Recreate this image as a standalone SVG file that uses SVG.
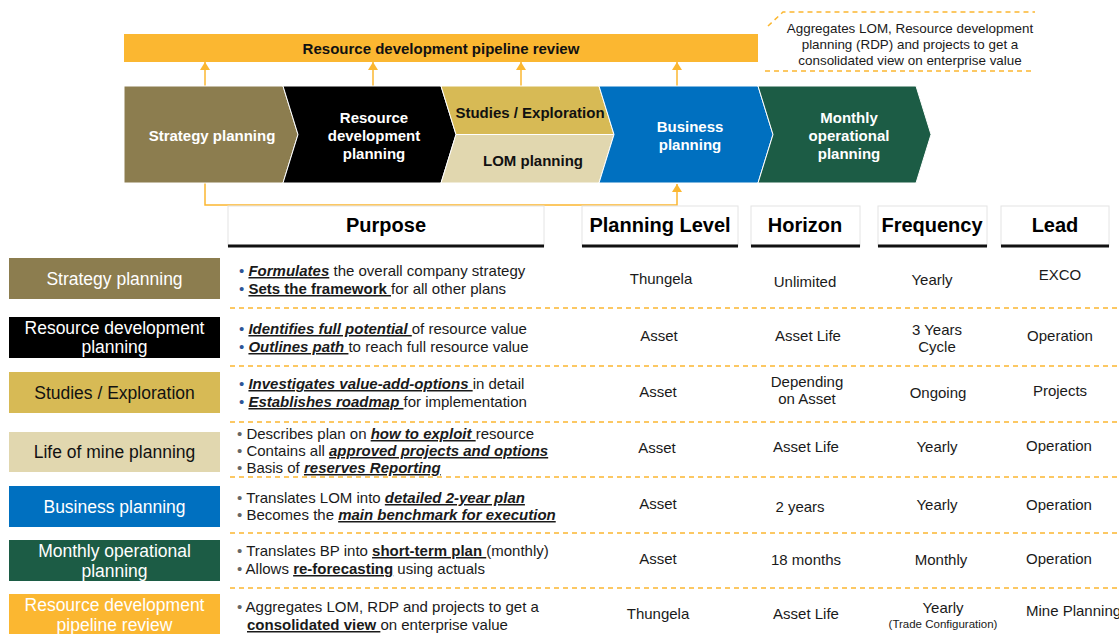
<svg xmlns="http://www.w3.org/2000/svg" width="1119" height="634" viewBox="0 0 1119 634">
<style>
text{font-family:"Liberation Sans",Arial,sans-serif;white-space:pre}
.bar{font-size:15px;font-weight:bold;fill:#111}
.chw{font-size:15px;font-weight:bold;fill:#fff}
.chb{font-size:15px;font-weight:bold;fill:#111}
.hdr{font-size:20px;font-weight:bold;fill:#000}
.lbl{font-size:17.5px;fill:#fff}
.lblk{font-size:17.5px;fill:#111}
.pur{font-size:15px;fill:#1a1a1a}
.val{font-size:15px;fill:#1a1a1a}
.small{font-size:11.5px;fill:#1a1a1a}
.ann{font-size:13.4px;fill:#1a1a1a}
.bi{font-weight:bold;font-style:italic;text-decoration:underline}
.bu{font-weight:bold;text-decoration:underline}
.bb{fill:#2F5597}
.bg{fill:#666}
.dash{stroke:#FBB731;stroke-width:1.5;stroke-dasharray:5 4;fill:none}
.conn{stroke:#FBB731;stroke-width:1.5;fill:none}
.hbox{fill:#fff;stroke:#e4e4e4;stroke-width:1}
.uline{stroke:#111;stroke-width:3}
</style>
<defs>
<marker id="ah" markerWidth="8" markerHeight="10" refX="8" refY="5" orient="auto" markerUnits="userSpaceOnUse" viewBox="0 0 8 10">
<path d="M0,0 L8,5 L0,10 Z" fill="#FBB731"/>
</marker>
</defs>

<g id="pipeline-bar">
<rect x="124" y="34" width="634" height="28" fill="#FBB731"/>
<text class="bar" x="441" y="54" text-anchor="middle">Resource development pipeline review</text>
</g>

<g id="callout">
<path class="dash" d="M768,26 L783,12 L1035,12"/>
<path class="dash" d="M765,71 L1035,71"/>
<text class="ann" x="910" y="33" text-anchor="middle">Aggregates LOM, Resource development</text>
<text class="ann" x="910" y="49" text-anchor="middle">planning (RDP) and projects to get a</text>
<text class="ann" x="910" y="65" text-anchor="middle">consolidated view on enterprise value</text>
</g>

<g id="connectors">
<path class="conn" d="M205,86 L205,62" marker-end="url(#ah)"/>
<path class="conn" d="M373,86 L373,62" marker-end="url(#ah)"/>
<path class="conn" d="M521,86 L521,62" marker-end="url(#ah)"/>
<path class="conn" d="M677,86 L677,62" marker-end="url(#ah)"/>
<path class="conn" d="M205,183 L205,205 L677,205 L677,184" marker-end="url(#ah)"/>
</g>

<g id="chev-strategy">
<path d="M124,86 L283,86 L298,134.5 L283,183 L124,183 Z" fill="#8C7D4F" stroke="#fff" stroke-width="1"/>
<text class="chw" x="212" y="141" text-anchor="middle">Strategy planning</text>
</g>
<g id="chev-rdp">
<path d="M283,86 L441,86 L456,134.5 L441,183 L283,183 L298,134.5 Z" fill="#000" stroke="#fff" stroke-width="1"/>
<text class="chw" x="374" y="123" text-anchor="middle">Resource</text>
<text class="chw" x="374" y="141" text-anchor="middle">development</text>
<text class="chw" x="374" y="159" text-anchor="middle">planning</text>
</g>
<g id="chev-studies">
<path d="M441,86 L599,86 L614,134.5 L456,134.5 Z" fill="#D7BA55" stroke="#fff" stroke-width="1"/>
<text class="chb" x="530" y="118" text-anchor="middle">Studies / Exploration</text>
</g>
<g id="chev-lom">
<path d="M456,134.5 L614,134.5 L599,183 L441,183 Z" fill="#E1D7AF" stroke="#fff" stroke-width="1"/>
<text class="chb" x="533" y="166" text-anchor="middle">LOM planning</text>
</g>
<g id="chev-business">
<path d="M599,86 L758,86 L773,134.5 L758,183 L599,183 L614,134.5 Z" fill="#0070C0" stroke="#fff" stroke-width="1"/>
<text class="chw" x="690" y="132" text-anchor="middle">Business</text>
<text class="chw" x="690" y="150" text-anchor="middle">planning</text>
</g>
<g id="chev-monthly">
<path d="M758,86 L916,86 L931,134.5 L916,183 L758,183 L773,134.5 Z" fill="#1C5C45" stroke="#fff" stroke-width="1"/>
<text class="chw" x="849" y="123" text-anchor="middle">Monthly</text>
<text class="chw" x="849" y="141" text-anchor="middle">operational</text>
<text class="chw" x="849" y="159" text-anchor="middle">planning</text>
</g>

<g id="headers">
<rect class="hbox" x="228" y="206" width="316" height="40"/>
<line class="uline" x1="228" y1="246" x2="544" y2="246"/>
<text class="hdr" x="386" y="232" text-anchor="middle">Purpose</text>
<rect class="hbox" x="582" y="206" width="156" height="40"/>
<line class="uline" x1="582" y1="246" x2="738" y2="246"/>
<text class="hdr" x="660" y="232" text-anchor="middle">Planning Level</text>
<rect class="hbox" x="751" y="206" width="109" height="40"/>
<line class="uline" x1="751" y1="246" x2="860" y2="246"/>
<text class="hdr" x="805" y="232" text-anchor="middle">Horizon</text>
<rect class="hbox" x="878" y="206" width="109" height="40"/>
<line class="uline" x1="878" y1="246" x2="987" y2="246"/>
<text class="hdr" x="932" y="232" text-anchor="middle">Frequency</text>
<rect class="hbox" x="1001" y="206" width="108" height="40"/>
<line class="uline" x1="1001" y1="246" x2="1109" y2="246"/>
<text class="hdr" x="1055" y="232" text-anchor="middle">Lead</text>
</g>

<g id="separators">
<line class="dash" x1="230" y1="308" x2="1119" y2="308"/>
<line class="dash" x1="230" y1="366" x2="1119" y2="366"/>
<line class="dash" x1="230" y1="422" x2="1119" y2="422"/>
<line class="dash" x1="230" y1="477" x2="1119" y2="477"/>
<line class="dash" x1="230" y1="533" x2="1119" y2="533"/>
<line class="dash" x1="230" y1="588" x2="1119" y2="588"/>
</g>

<g id="row-strategy">
<rect x="9" y="258" width="211" height="41" fill="#8C7D4F"/>
<text class="lbl" x="114.5" y="285" text-anchor="middle">Strategy planning</text>
<text class="pur" x="239" y="276"><tspan class="bb">•</tspan> <tspan class="bi">Formulates</tspan> the overall company strategy</text>
<text class="pur" x="239" y="294"><tspan class="bb">•</tspan> <tspan class="bu">Sets the framework </tspan>for all other plans</text>
<text class="val" x="661" y="284" text-anchor="middle">Thungela</text>
<text class="val" x="805" y="287" text-anchor="middle">Unlimited</text>
<text class="val" x="932" y="285" text-anchor="middle">Yearly</text>
<text class="val" x="1060" y="280" text-anchor="middle">EXCO</text>
</g>

<g id="row-rdp">
<rect x="9" y="317" width="211" height="41" fill="#000"/>
<text class="lbl" x="114.5" y="334" text-anchor="middle">Resource development</text>
<text class="lbl" x="114.5" y="353" text-anchor="middle">planning</text>
<text class="pur" x="239" y="334"><tspan class="bb">•</tspan> <tspan class="bi">Identifies full potential </tspan>of resource value</text>
<text class="pur" x="239" y="352"><tspan class="bb">•</tspan> <tspan class="bi">Outlines path </tspan>to reach full resource value</text>
<text class="val" x="659" y="341" text-anchor="middle">Asset</text>
<text class="val" x="808" y="341" text-anchor="middle">Asset Life</text>
<text class="val" x="937" y="335" text-anchor="middle">3 Years</text>
<text class="val" x="937" y="352" text-anchor="middle">Cycle</text>
<text class="val" x="1060" y="341" text-anchor="middle">Operation</text>
</g>

<g id="row-studies">
<rect x="9" y="372" width="211" height="41" fill="#D7BA55"/>
<text class="lblk" x="114.5" y="399" text-anchor="middle">Studies / Exploration</text>
<text class="pur" x="239" y="389"><tspan class="bb">•</tspan> <tspan class="bi">Investigates value-add-options </tspan>in detail</text>
<text class="pur" x="239" y="407"><tspan class="bb">•</tspan> <tspan class="bi">Establishes roadmap </tspan>for implementation</text>
<text class="val" x="658" y="397" text-anchor="middle">Asset</text>
<text class="val" x="807" y="387" text-anchor="middle">Depending</text>
<text class="val" x="807" y="404" text-anchor="middle">on Asset</text>
<text class="val" x="938" y="398" text-anchor="middle">Ongoing</text>
<text class="val" x="1060" y="396" text-anchor="middle">Projects</text>
</g>

<g id="row-lom">
<rect x="9" y="432" width="211" height="40" fill="#E1D7AF"/>
<text class="lblk" x="114.5" y="458" text-anchor="middle">Life of mine planning</text>
<text class="pur" x="237" y="439"><tspan class="bg">•</tspan> Describes plan on <tspan class="bi">how to exploit </tspan>resource</text>
<text class="pur" x="237" y="456"><tspan class="bg">•</tspan> Contains all <tspan class="bi">approved projects and options</tspan></text>
<text class="pur" x="237" y="473"><tspan class="bg">•</tspan> Basis of <tspan class="bi">reserves Reporting</tspan></text>
<text class="val" x="657" y="453" text-anchor="middle">Asset</text>
<text class="val" x="806" y="452" text-anchor="middle">Asset Life</text>
<text class="val" x="937" y="452" text-anchor="middle">Yearly</text>
<text class="val" x="1059" y="451" text-anchor="middle">Operation</text>
</g>

<g id="row-business">
<rect x="9" y="486" width="211" height="41" fill="#0070C0"/>
<text class="lbl" x="114.5" y="513" text-anchor="middle">Business planning</text>
<text class="pur" x="237" y="503"><tspan class="bg">•</tspan> Translates LOM into <tspan class="bi">detailed 2-year plan</tspan></text>
<text class="pur" x="237" y="520"><tspan class="bg">•</tspan> Becomes the <tspan class="bi">main benchmark for execution</tspan></text>
<text class="val" x="658" y="509" text-anchor="middle">Asset</text>
<text class="val" x="800" y="512" text-anchor="middle">2 years</text>
<text class="val" x="937" y="510" text-anchor="middle">Yearly</text>
<text class="val" x="1059" y="510" text-anchor="middle">Operation</text>
</g>

<g id="row-monthly">
<rect x="9" y="540" width="211" height="41" fill="#1C5C45"/>
<text class="lbl" x="114.5" y="557" text-anchor="middle">Monthly operational</text>
<text class="lbl" x="114.5" y="577" text-anchor="middle">planning</text>
<text class="pur" x="237" y="556"><tspan class="bg">•</tspan> Translates BP into <tspan class="bu">short-term plan </tspan>(monthly)</text>
<text class="pur" x="237" y="574"><tspan class="bg">•</tspan> Allows <tspan class="bu">re-forecasting</tspan> using actuals</text>
<text class="val" x="658" y="564" text-anchor="middle">Asset</text>
<text class="val" x="806" y="565" text-anchor="middle">18 months</text>
<text class="val" x="941" y="565" text-anchor="middle">Monthly</text>
<text class="val" x="1059" y="564" text-anchor="middle">Operation</text>
</g>

<g id="row-pipeline">
<rect x="9" y="594" width="211" height="40" fill="#FBB731"/>
<text class="lbl" x="114.5" y="611" text-anchor="middle">Resource development</text>
<text class="lbl" x="114.5" y="631" text-anchor="middle">pipeline review</text>
<text class="pur" x="237" y="612"><tspan class="bg">•</tspan> Aggregates LOM, RDP and projects to get a</text>
<text class="pur" x="247" y="630"><tspan class="bu">consolidated view </tspan>on enterprise value</text>
<text class="val" x="658" y="619" text-anchor="middle">Thungela</text>
<text class="val" x="806" y="619" text-anchor="middle">Asset Life</text>
<text class="val" x="943" y="613" text-anchor="middle">Yearly</text>
<text class="small" x="943" y="628" text-anchor="middle">(Trade Configuration)</text>
<text class="val" x="1026" y="616">Mine Planning</text>
</g>
</svg>
